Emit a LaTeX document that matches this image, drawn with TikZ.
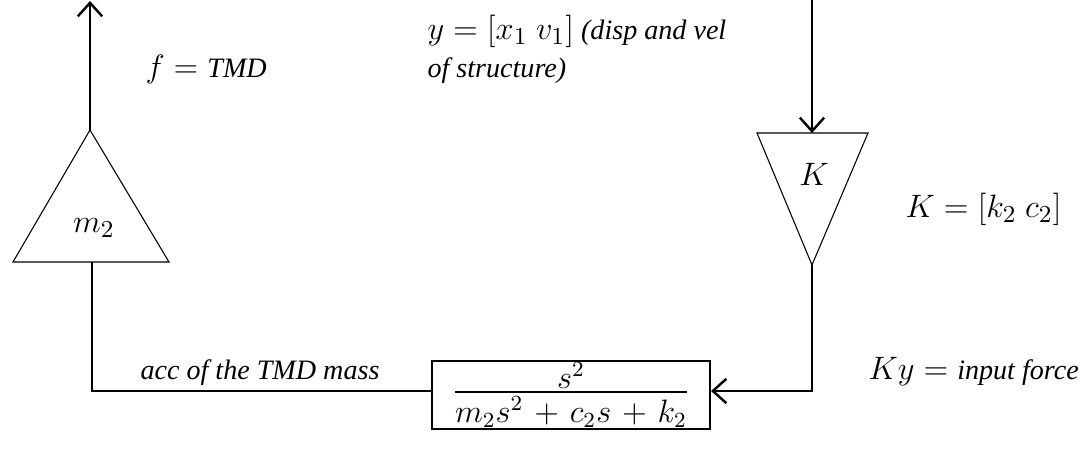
\documentclass[tikz,border=0pt]{standalone}
\usepackage{fontspec}
\setmainfont{Liberation Serif}
\usetikzlibrary{arrows.meta}
\newcommand\mymath[1]{{\fontsize{12.5}{14}\selectfont$#1$}}
\newcommand\boxfrac[2]{\vbox{\halign{\hfil##\hfil\cr $#1$\cr\noalign{\kern0.8pt\hrule height 1pt\kern1.2pt}$#2$\cr}}}
\newcommand\wplus{\mathbin{\mskip2mu+\mskip2mu}}
\begin{document}
\begin{tikzpicture}[x=0.37pt,y=-0.37pt,
  wire/.style={line width=0.9pt},
  shapeline/.style={draw, line width=0.4pt},
  arr/.style={wire,-{Straight Barb[length=5pt,width=9pt,line width=0.9pt]}},
  lbl/.style={font=\fontsize{10.4}{12}\selectfont\itshape, inner sep=0pt},
  mlbl/.style={font=\fontsize{10.4}{12}\selectfont, inner sep=0pt}]
\useasboundingbox (0,0) rectangle (1082,451);
% left triangle (m2)
\coordinate (mA) at (90,130);
\coordinate (mL) at (13,262);
\coordinate (mR) at (169,262);
\coordinate (mB) at (92,262);
\draw[shapeline] (mA) -- (mL) -- (mR) -- cycle;
\node[mlbl] (m2) at (94,228) {\mymath{m_2}};
% right triangle (K)
\coordinate (kL) at (757,133);
\coordinate (kR) at (868,133);
\coordinate (kT) at (812,133);
\coordinate (kA) at (812,265);
\draw[shapeline] (kL) -- (kR) -- (kA) -- cycle;
\node[mlbl] (K) at (814,174) {\mymath{K}};
% box
\node[draw, line width=0.75pt, minimum width=278*0.37pt, minimum height=62*0.37pt, inner sep=0.5pt,
  font=\fontsize{12}{12}\selectfont] (G) at (571,395)
  {\boxfrac{s^2}{m_2s^2\wplus c_2s\wplus k_2}};
% free ends
\coordinate (top1) at (90,1);
\coordinate (top2) at (812,0);
\coordinate (c1) at (92,391);
\coordinate (c2) at (812,391);
% connectors
\draw[arr] (mA) -- (top1);
\draw[arr] (top2) -- (kT);
\draw[wire] (mB) -- (c1) -- (c1 -| G.west);
\draw[arr] (kA) -- (c2) -- (c2 -| G.east);
% labels
\node[lbl, anchor=base west] (fl) at (145,78) {\mymath{f={}}TMD};
\node[lbl, anchor=base west] (yl1) at (427,40) {\mymath{y=[x_1\ v_1]} (disp and vel};
\node[lbl, anchor=base west] (yl2) at (427,78) {of structure)};
\node[lbl, anchor=base west] (kl) at (905,218) {\mymath{K=[k_2\ c_2]}};
\node[lbl, anchor=base west] (al) at (140,380) {acc of the TMD mass};
\node[lbl, anchor=base west] (il) at (868,380) {\mymath{Ky={}}input force};
\end{tikzpicture}
\end{document}
